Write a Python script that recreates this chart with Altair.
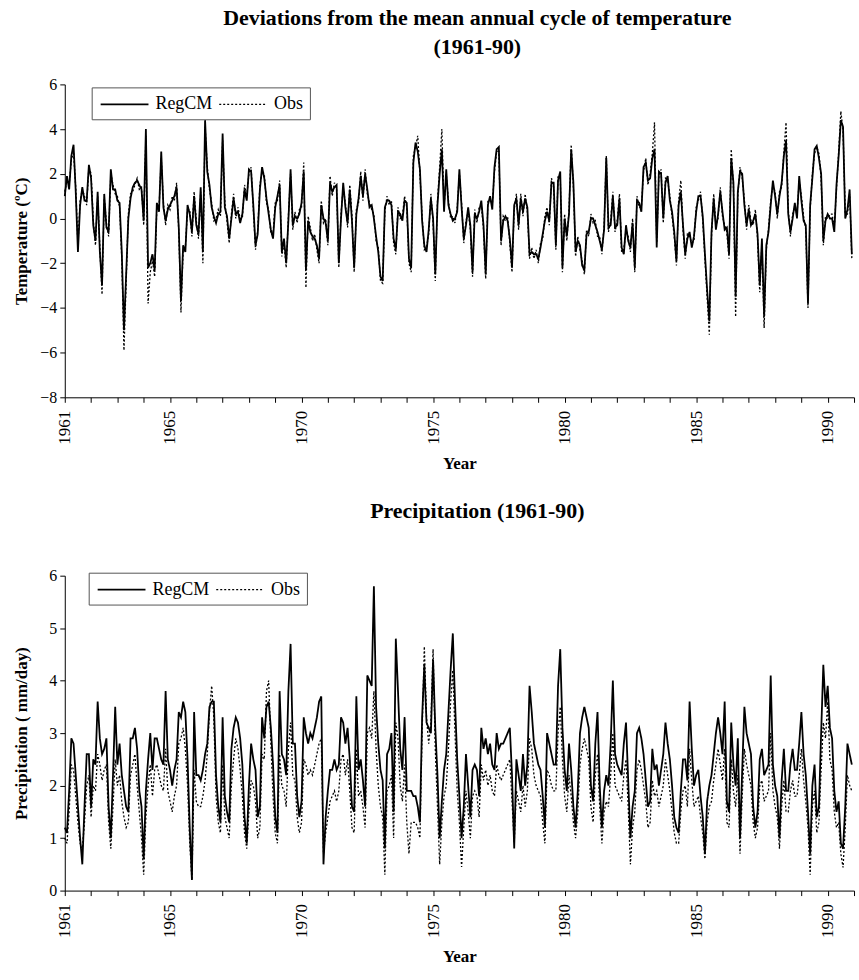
import altair as alt
import pandas as pd

FONT = "Liberation Serif"

series_names = ["RegCM", "Obs"]
start_year = 1961
tick_years = list(range(1961, 1992))
label_years = [1961, 1965, 1970, 1975, 1980, 1985, 1990]

# Monthly temperature deviations (deg C), Jan 1961 - Dec 1990
temp_regcm = [
    1.0, 1.9, 1.3, 2.8, 3.3, 1.2, -1.5, 0.6, 1.4, 0.8,
    0.8, 2.4, 1.8, -0.3, -1.0, 1.2, -1.5, -3.0, 1.1, -0.4,
    -0.6, 2.2, 1.3, 1.3, 0.8, 0.7, -1.5, -5.0, -2.5, 0.0,
    0.9, 1.4, 1.6, 1.7, 1.5, 1.3, -0.1, 4.0, -2.2, -2.0,
    -1.6, -2.3, 0.7, 0.3, 3.0, 0.5, -0.1, 0.4, 0.6, 0.8,
    1.0, 1.4, -0.4, -3.7, -1.2, -1.5, 0.6, 0.2, -0.6, 1.0,
    -0.3, -0.7, 1.4, -1.5, 4.4, 2.1, 1.5, 0.5, 0.1, -0.2,
    0.2, 0.3, 3.8, 0.5, 0.1, -0.9, 0.0, 0.9, 0.2, 0.3,
    -0.2, 0.2, 1.3, 0.8, 2.2, 2.1, 0.6, -1.2, -0.7, 1.3,
    2.3, 1.8, 0.9, 0.2, -0.5, -0.9, 0.5, 1.0, 1.5, -1.5,
    -0.9, -2.0, -0.1, 2.2, -0.3, 0.1, 0.0, 0.2, 0.7, 2.1,
    -2.3, -0.1, -0.6, -0.8, -0.9, -1.2, -1.8, 0.6, 0.0, -0.2,
    -1.0, 1.6, 1.2, 1.4, 1.5, -2.0, 0.0, 1.6, 0.5, -0.2,
    1.3, -0.1, -2.2, 0.2, 0.9, 1.9, 1.0, 2.0, 1.3, 0.5,
    0.6, 0.0, -0.8, -1.5, -2.6, -2.8, 0.5, 0.8, 0.8, 0.6,
    -0.9, -1.4, 0.3, 0.2, -0.1, 0.8, 0.7, -1.8, -2.2, 2.5,
    3.4, 3.0, 2.2, -0.1, -1.2, -1.5, -0.5, 0.9, 0.0, -2.5,
    0.6, 2.0, 3.1, 0.3, 2.2, 0.6, 0.2, -0.1, 0.0, 0.3,
    2.2, 0.5, -0.9, -0.3, 0.5, -0.3, -2.4, 0.2, 0.0, 0.3,
    0.8, -0.3, -2.5, 0.6, 1.0, 0.4, 2.3, 3.1, 3.2, -1.0,
    -0.1, 0.1, -0.1, -0.9, -2.2, 0.6, 0.9, -0.3, 0.9, 0.3,
    0.9, 0.5, -1.6, -1.5, -1.6, -1.6, -1.8, -1.3, -0.7, -0.1,
    0.3, -0.1, 1.6, 1.6, -1.2, 1.7, 2.1, -2.2, 0.0, -0.8,
    0.2, 3.1, 1.6, -1.5, -1.0, -1.2, -2.1, -2.3, -0.7, -0.6,
    0.0, 0.0, -0.3, -0.6, -1.0, -1.4, -0.5, 2.7, -0.4, -0.3,
    1.0, -0.4, -0.3, 0.9, -1.3, -1.6, -0.3, -1.0, -1.3, -0.2,
    -2.2, 0.8, 0.7, 0.3, 2.3, 2.5, 1.7, 1.8, 2.7, 3.1,
    -1.3, 2.1, 2.0, 0.0, 1.6, 1.9, 0.8, 0.3, -0.6, -1.9,
    0.6, 1.2, -0.3, -1.6, -0.9, -0.6, -1.3, -0.8, 0.3, 1.0,
    1.0, 0.1, -1.6, -3.2, -4.6, -0.6, 0.9, -0.5, 0.2, 1.2,
    0.3, -0.5, -0.4, -1.6, 2.7, 1.6, -3.5, 1.2, 2.1, 2.0,
    0.6, -0.3, 0.4, -0.3, -0.1, 0.2, -0.7, -3.0, -0.9, -4.4,
    -1.2, -0.6, 0.6, 1.7, 1.0, 0.2, 1.0, 1.6, 2.8, 3.5,
    0.2, -0.6, 0.0, 0.7, 0.0, 1.9, 0.8, -0.1, -0.3, -3.8,
    0.6, 1.8, 3.1, 3.25, 2.7, 2.0, -1.0, -0.1, 0.2, 0.0,
    0.0, -0.6, 1.5, 2.8, 4.4, 4.1, 0.0, 0.4, 1.3, -1.6,
]

temp_obs = [
    1.2, 1.7, 1.5, 2.6, 3.0, 1.4, -1.2, 0.8, 1.3, 1.0,
    0.6, 2.3, 2.0, -0.1, -1.2, 1.0, -1.3, -3.4, 0.9, -0.2,
    -0.8, 2.0, 1.5, 1.1, 1.0, 0.5, -1.8, -5.9, -2.8, 0.2,
    1.1, 1.2, 1.5, 1.8, 1.3, 1.4, -0.3, 3.7, -3.8, -2.4,
    -1.9, -2.6, 0.5, 0.5, 2.7, 0.7, -0.3, 0.6, 0.4, 1.0,
    0.8, 1.6, -0.6, -4.2, -1.4, -1.3, 0.4, 0.4, -0.8, 1.2,
    -0.1, -0.9, 1.2, -2.0, 4.1, 2.3, 1.3, 0.7, -0.1, 0.0,
    0.4, 0.1, 3.5, 0.7, -0.1, -1.1, 0.2, 1.1, 0.0, 0.5,
    0.0, 0.0, 1.5, 1.0, 2.0, 2.3, 0.4, -1.4, -0.5, 1.5,
    2.1, 2.0, 0.7, 0.4, -0.7, -0.7, 0.7, 0.8, 1.7, -1.7,
    -1.1, -2.2, 0.1, 2.0, -0.5, 0.3, -0.2, 0.4, 0.5, 2.5,
    -3.1, 0.1, -0.4, -1.0, -0.7, -1.4, -2.0, 0.8, -0.2, 0.0,
    -1.2, 1.9, 1.0, 1.6, 1.3, -2.2, 0.2, 1.4, 0.7, -0.4,
    1.5, 0.1, -2.4, 0.4, 0.7, 2.1, 0.8, 2.2, 1.1, 0.7,
    0.4, 0.2, -1.0, -1.3, -2.8, -2.9, 0.3, 1.0, 0.6, 0.8,
    -1.1, -1.6, 0.5, 0.0, 0.1, 1.0, 0.5, -2.0, -2.4, 2.8,
    3.2, 3.7, 2.0, 0.1, -1.4, -1.3, -0.7, 1.1, -0.2, -2.8,
    0.8, 2.3, 4.0, 0.5, 2.0, 0.8, 0.0, 0.1, -0.2, 0.5,
    2.0, 0.7, -1.1, -0.1, 0.3, -0.5, -2.6, 0.4, -0.2, 0.5,
    0.6, -0.5, -2.7, 0.8, 0.8, 0.6, 2.1, 3.0, 3.0, -1.2,
    0.1, -0.1, 0.1, -1.1, -2.4, 0.4, 1.1, -0.5, 1.1, 0.1,
    1.1, 0.3, -1.8, -1.3, -1.8, -1.4, -2.0, -1.1, -0.9, 0.1,
    0.5, -0.3, 1.8, 1.4, -1.4, 1.9, 1.9, -2.4, 0.2, -1.0,
    0.4, 3.3, 1.4, -1.7, -0.8, -1.4, -1.9, -2.5, -0.5, -0.8,
    0.2, -0.2, -0.1, -0.8, -0.8, -1.6, -0.3, 2.8, -0.6, -0.1,
    1.2, -0.6, -0.1, 1.1, -1.5, -1.4, -0.5, -0.8, -1.5, 0.0,
    -2.4, 1.0, 0.5, 0.5, 2.1, 2.7, 1.5, 2.0, 2.9, 4.3,
    -1.1, 1.9, 2.2, -0.2, 1.8, 1.7, 1.0, 0.1, -0.8, -2.1,
    0.8, 1.7, -0.5, -1.8, -0.7, -0.8, -1.1, -1.0, 0.5, 0.8,
    1.2, -0.1, -1.8, -3.5, -5.2, -0.8, 1.1, -0.3, 0.0, 1.4,
    0.1, -0.3, -0.6, -1.8, 3.1, 1.4, -4.4, 1.0, 2.3, 1.8,
    0.8, -0.5, 0.6, -0.1, -0.3, 0.4, -0.9, -3.3, -1.1, -4.9,
    -1.4, -0.4, 0.8, 1.5, 1.2, 0.0, 1.2, 1.4, 3.0, 4.3,
    0.4, -0.8, 0.2, 0.5, 0.2, 1.7, 1.0, 0.1, -0.5, -4.0,
    0.4, 2.0, 2.9, 3.2, 2.9, 1.8, -1.2, 0.1, 0.0, 0.2,
    0.2, -0.4, 1.3, 3.0, 4.8, 3.9, 0.2, 0.2, 1.1, -1.8,
]

# Monthly precipitation (mm/day), Jan 1961 - Dec 1990
prec_regcm = [
    1.2, 1.1, 1.9, 2.9, 2.8, 2.2, 1.6, 1.0, 0.5, 1.6,
    2.6, 2.6, 1.6, 2.5, 2.4, 3.6, 2.9, 2.6, 2.7, 2.9,
    1.6, 1.0, 2.2, 3.5, 2.4, 2.8, 2.2, 1.9, 1.6, 1.5,
    2.9, 2.9, 3.1, 2.7, 1.9, 1.6, 0.6, 1.9, 2.5, 3.0,
    2.3, 2.9, 2.9, 2.7, 2.5, 2.4, 3.8, 2.5, 2.3, 2.0,
    2.3, 2.5, 3.4, 3.3, 3.6, 3.4, 2.5, 1.2, 0.2, 3.4,
    2.2, 2.2, 2.1, 2.3, 2.6, 2.8, 3.5, 3.6, 3.6, 2.2,
    1.6, 1.3, 3.3, 1.8, 1.5, 1.3, 2.7, 3.1, 3.3, 3.2,
    2.9, 2.4, 1.4, 0.9, 2.0, 2.8, 2.5, 2.3, 1.4, 1.6,
    3.3, 2.9, 3.5, 3.6, 3.1, 2.4, 1.4, 1.1, 3.8, 2.6,
    2.5, 2.2, 3.8, 4.7, 2.8, 2.8, 1.8, 1.4, 1.7, 3.3,
    3.0, 2.8, 3.0, 2.9, 3.1, 3.3, 3.6, 3.7, 0.5, 1.4,
    1.9, 2.3, 2.3, 2.5, 2.3, 2.4, 3.3, 3.2, 2.8, 3.1,
    2.5, 1.6, 1.5, 3.7, 2.3, 2.5, 2.1, 1.6, 4.1, 4.0,
    3.9, 5.8, 3.5, 2.8, 2.3, 2.1, 0.8, 2.6, 2.7, 3.0,
    1.5, 4.8, 3.8, 2.7, 2.3, 3.3, 1.9, 1.9, 1.9, 1.8,
    1.8, 1.6, 1.3, 3.3, 4.3, 3.2, 3.1, 3.0, 4.4, 3.1,
    2.2, 1.0, 1.7, 2.3, 2.6, 3.4, 4.2, 4.9, 3.6, 2.5,
    1.8, 1.0, 1.6, 2.6, 2.0, 1.4, 2.3, 2.4, 2.3, 1.8,
    3.1, 2.7, 2.9, 2.6, 2.8, 2.4, 2.3, 3.0, 2.7, 2.8,
    2.8, 2.9, 3.0, 3.1, 2.2, 0.8, 2.5, 2.2, 1.9, 2.6,
    2.0, 2.4, 3.9, 3.4, 2.8, 2.6, 2.4, 2.3, 1.8, 1.2,
    3.0, 2.8, 2.6, 2.4, 2.4, 3.9, 4.6, 3.1, 2.3, 1.9,
    2.8, 2.3, 1.6, 1.2, 1.9, 3.0, 3.3, 3.5, 3.3, 3.1,
    2.0, 1.7, 2.8, 3.4, 2.0, 1.2, 1.9, 2.2, 2.0, 2.8,
    4.0, 2.6, 2.4, 2.3, 2.2, 2.8, 3.2, 2.1, 1.0, 1.6,
    1.9, 3.0, 3.1, 2.9, 2.6, 2.1, 1.6, 1.7, 2.7, 2.3,
    2.4, 2.0, 2.3, 2.6, 3.2, 2.8, 2.5, 2.0, 1.4, 1.2,
    1.1, 1.9, 2.5, 2.5, 2.1, 3.6, 2.7, 2.0, 2.2, 2.3,
    1.8, 1.4, 0.7, 1.7, 2.0, 2.2, 2.6, 3.0, 3.3, 3.0,
    2.6, 3.6, 1.7, 1.5, 3.2, 2.4, 2.0, 2.9, 1.0, 2.3,
    3.5, 3.0, 2.8, 2.6, 1.6, 1.2, 1.5, 2.5, 2.7, 2.2,
    2.3, 2.4, 4.1, 2.4, 2.0, 1.8, 1.0, 2.1, 2.7, 1.9,
    1.9, 2.4, 2.7, 2.3, 2.3, 2.8, 3.4, 2.6, 2.2, 1.5,
    0.7, 2.0, 2.4, 1.4, 1.6, 3.0, 4.3, 3.5, 3.9, 3.1,
    2.9, 1.9, 1.5, 1.7, 0.9, 0.8, 1.6, 2.8, 2.6, 2.4,
]

prec_obs = [
    1.0, 0.9, 1.5, 2.4, 2.3, 1.8, 1.3, 0.9, 0.8, 1.3,
    2.0, 2.2, 1.4, 2.0, 1.9, 2.6, 2.4, 2.1, 2.3, 2.4,
    1.3, 0.8, 1.6, 2.5, 2.0, 2.2, 1.7, 1.4, 1.2, 1.3,
    2.2, 2.4, 2.6, 2.0, 1.5, 1.0, 0.3, 1.4, 2.0, 2.4,
    1.8, 2.3, 2.4, 2.2, 2.0, 1.9, 2.7, 1.9, 1.7, 1.5,
    1.8, 2.0, 2.8, 2.9, 3.1, 2.7, 2.0, 0.9, 0.2, 2.3,
    1.7, 1.6, 1.6, 1.8, 2.1, 2.6, 3.4, 3.9, 3.3, 1.8,
    1.3, 1.1, 2.4, 1.4, 1.2, 1.0, 2.0, 2.5, 2.9, 2.7,
    2.3, 1.8, 1.1, 0.8, 1.5, 2.1, 2.0, 1.7, 1.0, 1.2,
    2.6, 2.5, 3.8, 4.0, 2.8, 1.8, 1.1, 0.9, 2.6, 2.0,
    1.9, 1.6, 2.7, 3.2, 2.2, 2.1, 1.4, 1.1, 1.3, 2.5,
    2.4, 2.2, 2.3, 2.2, 2.4, 2.6, 2.8, 2.9, 0.7, 1.1,
    1.4, 1.7, 1.8, 1.9, 1.7, 1.9, 2.5, 2.6, 2.2, 2.5,
    1.9, 1.2, 1.1, 2.7, 1.8, 1.9, 1.6, 1.2, 3.0, 3.1,
    2.9, 3.8, 2.7, 2.0, 1.6, 1.4, 0.3, 1.9, 2.0, 2.2,
    1.0, 3.2, 2.9, 2.0, 1.7, 2.4, 1.3, 0.7, 1.3, 1.3,
    1.3, 1.2, 1.0, 3.0, 4.65, 3.3, 2.8, 3.2, 4.6, 2.7,
    1.6, 0.5, 1.3, 1.8, 2.0, 2.7, 3.6, 4.2, 3.0, 1.9,
    1.3, 0.45, 1.2, 1.9, 1.5, 1.0, 1.8, 1.9, 1.8, 1.4,
    2.4, 2.1, 2.3, 2.0, 2.2, 1.9, 1.8, 2.4, 2.2, 2.1,
    2.2, 2.3, 2.4, 2.5, 1.7, 0.9, 1.9, 1.7, 1.5, 2.0,
    1.6, 1.9, 2.9, 2.7, 2.2, 2.0, 1.9, 1.8, 1.3, 0.9,
    2.3, 2.2, 2.0, 1.9, 1.9, 3.0, 3.5, 2.5, 1.8, 1.5,
    2.2, 1.8, 1.3, 1.0, 1.5, 2.4, 2.7, 2.9, 2.7, 2.5,
    1.6, 1.3, 2.2, 2.6, 1.6, 0.9, 1.5, 1.7, 1.6, 2.2,
    3.0, 2.0, 1.9, 1.8, 1.7, 2.2, 2.5, 1.6, 0.5, 1.2,
    1.5, 2.3, 2.5, 2.3, 2.0, 1.7, 1.2, 1.3, 2.1, 1.8,
    1.9, 1.6, 1.8, 2.0, 2.5, 2.2, 1.9, 1.5, 1.1, 0.9,
    0.9, 1.5, 1.9, 2.0, 1.6, 2.7, 2.1, 1.6, 1.7, 1.8,
    1.4, 1.1, 0.6, 1.3, 1.6, 1.7, 2.1, 2.4, 2.7, 2.4,
    2.1, 2.7, 1.3, 1.2, 2.5, 1.9, 1.6, 2.2, 0.7, 1.8,
    2.7, 2.4, 2.2, 2.0, 1.3, 1.0, 1.2, 2.0, 2.1, 1.7,
    1.8, 1.9, 3.0, 1.9, 1.6, 1.4, 0.8, 1.6, 2.1, 1.5,
    1.5, 1.9, 2.1, 1.8, 1.8, 2.2, 2.7, 2.1, 1.7, 1.2,
    0.3, 1.6, 1.9, 1.1, 1.3, 2.3, 3.2, 2.9, 3.6, 2.5,
    2.3, 1.5, 1.2, 1.3, 0.7, 0.44, 1.2, 2.2, 2.0, 1.9,
]

for arr in (temp_regcm, temp_obs, prec_regcm, prec_obs):
    if len(arr) != 360:
        raise ValueError("series length %d" % len(arr))


def long_df(regcm, obs):
    rows = []
    for i, (r, o) in enumerate(zip(regcm, obs)):
        t = start_year + i / 12.0
        rows.append({"t": t, "v": o, "series": "Obs"})
        rows.append({"t": t, "v": r, "series": "RegCM"})
    return pd.DataFrame(rows)


label_expr = ("indexof([" + ",".join(str(y) for y in label_years) +
              "], datum.value) >= 0 ? '' + datum.value : ''")

PLOT_W = 792


def panel(df, ytitle, ydomain, yvalues, title_text, height, title_offset,
          legend_x, legend_y):
    x = alt.X(
        "t:Q",
        scale=alt.Scale(domain=[1961, 1991], nice=False, zero=False),
        axis=alt.Axis(values=tick_years, labelExpr=label_expr, labelAngle=270,
                      title="Year", labelPadding=8, titlePadding=11,
                      labelFontSize=17, labelFont=FONT),
    )
    y = alt.Y(
        "v:Q",
        scale=alt.Scale(domain=ydomain, nice=False, zero=False),
        axis=alt.Axis(values=yvalues, title=ytitle, minExtent=24, maxExtent=24,
                      titlePadding=10, labelPadding=3),
    )
    dash = alt.StrokeDash(
        "series:N",
        scale=alt.Scale(domain=series_names, range=[[1, 0], [2, 2]]),
        legend=alt.Legend(
            orient="none", legendX=legend_x, legendY=legend_y,
            direction="horizontal", title=None, labelFont=FONT,
            labelFontSize=18, labelColor="black",
            symbolType="M-2.4,0H2.4", symbolSize=400, symbolOffset=16,
            symbolStrokeWidth=1.5, symbolStrokeColor="black",
            labelOffset=20, columnPadding=3,
            strokeColor="#555555", fillColor="white", padding=6,
        ),
    )
    width_enc = alt.StrokeWidth(
        "series:N",
        scale=alt.Scale(domain=series_names, range=[1.8, 1.3]),
        legend=None,
    )
    return alt.Chart(df).mark_line(color="black").encode(
        x=x, y=y, strokeDash=dash, strokeWidth=width_enc
    ).properties(
        width=PLOT_W,
        height=height,
        title=alt.TitleParams(
            text=title_text, font=FONT, fontSize=22, fontWeight="bold",
            color="black", anchor="middle", offset=title_offset, lineHeight=30,
            dx=18,
        ),
    )


top = panel(long_df(temp_regcm, temp_obs), "Temperature (ºC)", [-8, 6],
            list(range(-8, 7, 2)),
            ["Deviations from the mean annual cycle of temperature", "(1961-90)"],
            314, 17, 27, 3)
bottom = panel(long_df(prec_regcm, prec_obs), "Precipitation ( mm/day)", [0, 6],
               list(range(0, 7)), "Precipitation (1961-90)", 316, 45, 24, -3)

chart = alt.vconcat(top, bottom, spacing=29).resolve_scale(
    y="independent", strokeDash="independent", strokeWidth="independent"
).resolve_legend(strokeDash="independent").properties(
    padding={"left": 13, "top": 5, "right": 3, "bottom": 2},
    background="white",
).configure_view(stroke=None).configure_axis(
    grid=False, domainColor="black", tickColor="black", labelColor="black",
    titleColor="black", labelFont=FONT, titleFont=FONT, labelFontSize=16,
    titleFontSize=17, titleFontWeight="bold", tickSize=5, domainWidth=1,
)

chart.save("out.html", embed_options={"renderer": "svg", "actions": False})
